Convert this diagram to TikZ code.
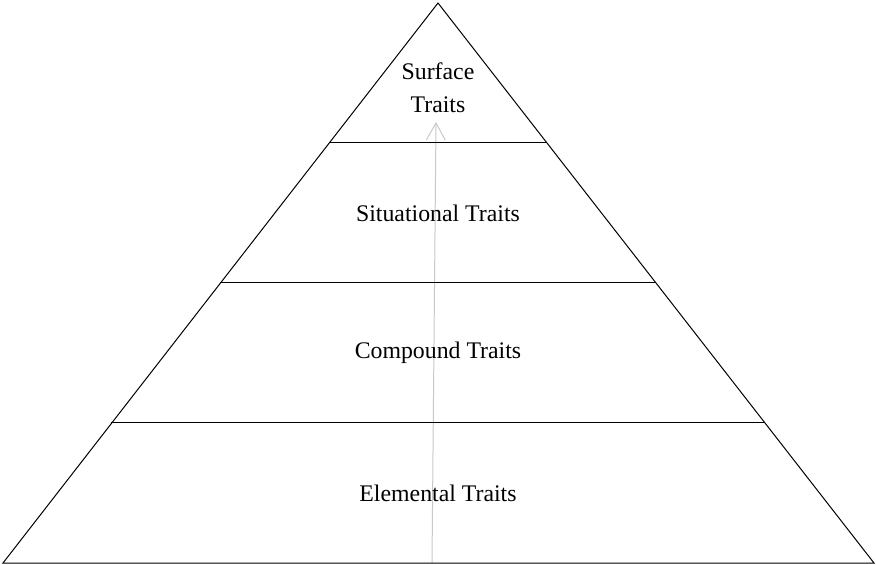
\documentclass[tikz,border=0pt]{standalone}
\usepackage{fontspec}
\setmainfont{Liberation Serif}
\usetikzlibrary{arrows.meta}
\begin{document}
\begin{tikzpicture}[x=1pt,y=-1pt,
  edge/.style={draw=black,line width=1pt},
  lbl/.style={font=\fontsize{23.8}{33}\selectfont,align=center,inner sep=0pt},
  flow/.style={draw={rgb,255:red,200;green,200;blue,200},line width=1pt,-{Straight Barb[length=17pt,width=19pt,line width=1pt]}}]
\useasboundingbox (0,0) rectangle (876,565);
\coordinate (apex) at (438,3);
\coordinate (bl) at (3,563);
\coordinate (br) at (874,563);
\coordinate (l1) at (330,142); \coordinate (r1) at (546,142);
\coordinate (l2) at (220,282); \coordinate (r2) at (656,282);
\coordinate (l3) at (111,422); \coordinate (r3) at (765,422);
\coordinate (as) at (432,563);
\coordinate (ae) at (436,122);
\draw[flow] (as) -- (ae);
\draw[edge,line join=miter] (bl) -- (apex) -- (br) -- cycle;
\draw[edge] (l1) -- (r1);
\draw[edge] (l2) -- (r2);
\draw[edge] (l3) -- (r3);
\node[lbl] (surface) at (438,88) {Surface\\Traits};
\node[lbl] (situational) at (438,213) {Situational Traits};
\node[lbl] (compound) at (438,353) {Compound Traits};
\node[lbl] (elemental) at (438,493) {Elemental Traits};
\end{tikzpicture}
\end{document}
